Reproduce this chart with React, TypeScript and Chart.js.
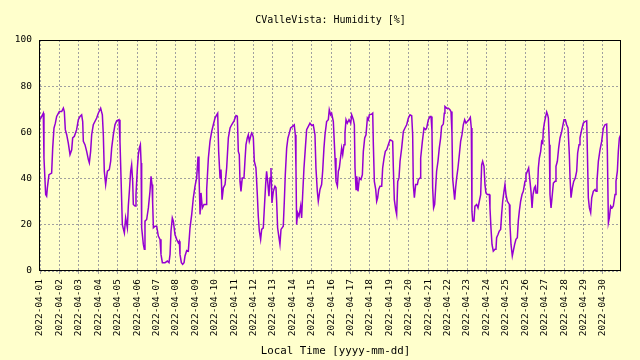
import React, { useEffect, useRef } from "react";
import { Chart, registerables } from "chart.js";

Chart.register(...registerables);

// [hours since 2022-04-01 00:00, humidity %]
const apr01to05: [number, number][] = [
  [0, 65.5], [4.1, 68.3], [4.9, 48.9], [7.0, 33.1], [8.2, 32.4], [9.1, 36], [11.1, 41.7], [14.4, 42.4],
  [15.7, 53.2], [17.3, 61.9], [19.0, 64], [20.6, 66.9], [23.9, 69], [26.8, 69], [28.9, 70.5], [30.1, 69],
  [31.3, 61.2], [33.0, 59], [35.0, 55.4], [37.1, 50.4], [39.2, 52.5], [40.4, 57.6], [42.5, 58.3], [45.3, 61.2],
  [47.4, 65.5], [49.5, 66.9], [51.5, 67.6], [52.8, 64.7], [53.6, 56.1], [55.6, 54.7], [57.7, 51.8], [59.8, 48.2],
  [61.0, 46.8], [62.6, 51.8], [63.9, 59], [65.9, 63.3], [70.1, 66.2], [72.1, 68.3], [75.0, 70.5], [77.1, 67.6],
  [78.3, 59], [79.5, 43.2], [81.2, 37.4], [83.3, 43.2], [85.7, 43.9], [87.4, 47.5], [88.6, 53.2], [90.7, 59],
  [92.7, 63.3], [94.8, 65], [97.7, 65.5], [98.9, 56.1], [100.2, 40.3], [101.8, 20.1], [104.3, 16.5], [105.9, 23],
  [108.0, 18.7], [109.2, 28.1], [110.5, 34.5], [112.1, 43.2], [113.3, 46], [114.6, 38.8], [115.4, 28.8], [117.5, 28.1],
  [118.7, 33.1], [120.4, 44.6], [121.6, 50.4], [122.8, 53.2],
];

const apr06to10: [number, number][] = [
  [124.1, 54.7], [125.0, 46.8], [125.7, 18.7], [127.8, 11.5], [129.0, 9.4], [129.8, 21.6], [131.9, 22.3], [134.0, 27.3],
  [136.0, 34.5], [137.3, 41], [138.5, 37.4], [139.3, 29.5], [140.2, 18.7], [142.2, 19.4], [144.3, 19.4], [146.3, 15.1],
  [148.4, 13.7], [149.6, 7.2], [151.3, 3.6], [154.6, 3.6], [157.5, 4.3], [159.5, 3.6], [160.8, 7.2], [162.0, 17.3],
  [163.6, 23], [164.9, 21.6], [166.9, 15.8], [169.0, 13.7], [171.1, 12.2], [172.3, 12.9], [173.1, 7.2], [174.8, 3.6],
  [176.4, 2.9], [178.1, 3.6], [179.3, 6.5], [181.4, 8.9], [183.4, 8.6], [185.5, 18.7], [187.6, 24.5], [189.6, 31.7],
  [191.7, 36.7], [193.7, 40.3], [195.4, 49.6], [196.6, 41.7], [197.9, 24.5], [199.1, 33.8], [200.7, 27.3], [202.8, 28.8],
  [205.3, 28.8], [206.1, 35.3], [208.2, 48.9], [210.2, 56.1], [212.3, 60.4], [214.3, 63.3], [216.4, 66.2], [218.5, 67.6],
  [219.7, 68.3], [220.9, 51.8], [222.6, 40.3], [223.8, 43.9], [225.1, 30.9], [226.7, 36], [228.8, 37.4], [230.8, 44.6],
  [232.9, 57.6], [235.0, 61.9], [237.0, 63.3], [239.9, 65], [242.4, 67.3], [244.0, 67],
];

const apr11to15: [number, number][] = [
  [245.2, 51.8], [246.4, 50.4], [247.3, 38.8], [248.5, 34.5], [250.1, 40.3], [252.2, 40.3], [253.4, 47.5], [254.7, 54.7],
  [256.3, 57.6], [257.6, 59], [258.8, 56.1], [260.5, 58.3], [261.7, 59.7], [262.9, 59], [263.8, 57.6], [265.0, 47.5],
  [267.0, 44.6], [267.9, 38.8], [268.7, 33.1], [269.9, 23.7], [271.2, 17.3], [272.8, 13.7], [274.1, 18], [276.1, 18.7],
  [277.4, 27.3], [279.0, 37.4], [280.2, 43.2], [281.5, 38.8], [283.1, 32.4], [284.4, 40.3], [285.6, 44.6], [286.8, 29.5],
  [288.5, 34.5], [290.5, 36.7], [291.8, 36], [292.6, 30.2], [293.8, 18.7], [295.5, 14.4], [296.7, 11.5], [298.0, 18],
  [300.8, 19.4], [302.1, 30.2], [303.3, 41.7], [305.0, 53.2], [306.6, 57.6], [308.3, 59.7], [309.9, 61.9], [312.4, 62.6],
  [314.4, 63.3], [315.7, 59], [316.5, 44.6], [317.3, 20.1], [318.6, 25.2], [320.2, 23.7], [322.3, 28.1], [323.5, 23],
  [324.8, 33.1], [326.4, 44.6], [328.1, 53.2], [329.7, 61.2], [331.8, 62.6], [333.8, 64], [335.9, 63], [337.9, 63.3],
  [340.0, 59], [341.2, 44.6], [342.9, 34.5], [344.1, 30.2], [346.2, 35.3], [348.2, 37.4], [349.5, 43.2], [351.1, 53.2],
  [352.4, 59], [354.4, 64.7], [356.5, 65.5], [357.7, 69.8], [359.4, 67.6], [360.6, 68.3], [362.7, 64.7],
];

const apr16to20: [number, number][] = [
  [364.8, 48.9], [366.0, 38.8], [367.7, 36.7], [368.9, 43.2], [370.1, 44.6], [371.8, 49.6], [373.0, 53.2], [374.3, 50.4],
  [375.9, 54.7], [377.1, 59.7], [378.4, 65.5], [380.0, 64], [382.1, 65.5], [384.2, 64], [385.4, 67.6], [387.5, 65.5],
  [388.7, 63.3], [389.5, 44.6], [390.8, 35.3], [391.6, 41], [393.2, 34.5], [394.9, 40.3], [396.9, 39.6], [398.6, 41.7],
  [399.8, 51.8], [401.5, 57.6], [403.1, 59], [404.8, 66.2], [406.0, 65.5], [407.2, 67.6], [410.1, 67.9], [411.4, 68.3],
  [412.2, 54.7], [413.4, 38.8], [415.1, 35.3], [416.3, 30.2], [417.5, 31.7], [418.8, 35.3], [420.4, 36.7], [422.5, 36.7],
  [423.7, 44.6], [425.4, 48.9], [427.0, 51.8], [428.7, 52.5], [430.7, 54.7], [432.8, 56.8], [434.9, 56.4], [436.1, 56.1],
  [436.9, 44.6], [438.1, 30.9], [439.8, 26.6], [441.0, 24.5], [442.3, 38.8], [443.9, 40.3], [445.2, 47.5], [447.2, 53.2],
  [449.3, 60.4], [451.3, 61.9], [453.4, 63.3], [455.5, 66.2], [457.5, 67.6], [459.6, 67.2], [460.8, 59], [461.6, 37.4],
  [462.9, 31.7], [464.5, 37.4], [466.6, 37.4], [467.8, 39.6], [469.9, 40.3], [470.7, 48.9], [472.8, 56.1], [474.8, 61.9],
  [476.9, 61.2], [478.1, 61.9], [480.2, 65.5], [482.3, 66.9], [483.5, 66.9],
];

const apr21to25: [number, number][] = [
  [484.7, 60.4], [485.5, 36], [486.7, 27.3], [488.0, 28.8], [489.2, 36], [490.4, 43.2], [492.1, 47.5], [493.7, 53.2],
  [495.4, 57.6], [496.6, 62.6], [498.7, 63.6], [499.9, 68.3], [500.7, 71.2], [502.8, 70.5], [504.9, 70.5], [506.9, 69.8],
  [508.2, 69], [509.4, 59.7], [510.2, 40.3], [511.5, 35.3], [512.7, 30.9], [513.9, 36], [515.2, 40.3], [516.8, 44.6],
  [518.5, 50.4], [520.1, 56.1], [521.8, 59], [523.4, 63.3], [525.1, 65.5], [526.7, 64], [528.4, 64.7], [530.4, 65.5],
  [532.1, 66.5], [533.3, 61.9], [534.1, 25.9], [535.0, 21.6], [536.6, 21.6], [537.8, 28.1], [539.9, 28.8], [541.6, 27.3],
  [543.2, 30.2], [544.9, 33.1], [546.1, 46], [547.3, 47.5], [549.0, 45.3], [550.2, 37.4], [551.4, 33.8], [553.1, 33.1],
  [555.6, 33.1], [556.4, 27.3], [557.6, 18.7], [558.9, 11.5], [560.5, 8.6], [562.6, 9.4], [563.8, 9.4], [564.6, 14.4],
  [566.3, 15.8], [567.9, 17.3], [569.6, 18], [570.8, 24.5], [572.1, 30.2], [573.7, 34.5], [574.9, 37.4], [576.2, 33.1],
  [577.8, 30.2], [580.3, 28.8], [581.1, 20.1], [582.4, 11.5], [584.0, 6.5], [585.2, 8.6], [586.9, 11.5], [588.5, 13.7],
  [590.2, 14.4], [591.4, 21.6], [592.7, 25.9], [594.3, 30.2], [596.0, 33.1], [597.6, 34.5], [599.7, 38.8], [600.9, 41.7],
  [602.6, 43.2], [604.2, 44.6],
];

const apr26to30: [number, number][] = [
  [607.1, 34.5], [608.4, 27.3], [609.6, 33.1], [611.3, 36], [612.5, 36.7], [613.3, 33.8], [615.0, 33.8], [616.2, 44.6],
  [617.4, 48.9], [619.1, 51.8], [620.3, 56.1], [621.6, 55.4], [622.4, 61.2], [623.6, 64], [625.3, 66.9], [626.5, 68.8],
  [627.7, 67.6], [628.6, 66.2], [629.8, 54.7], [630.6, 33.1], [631.9, 27.3], [633.1, 31.7], [634.8, 38.1], [636.8, 38.8],
  [638.0, 45.3], [639.7, 47.5], [641.3, 53.2], [643.0, 57.6], [645.1, 60.4], [646.3, 62.6], [647.9, 65.5], [649.6, 65.5],
  [651.2, 63.3], [652.9, 61.9], [654.5, 50.4], [655.4, 40.3], [656.6, 31.7], [658.2, 36], [659.9, 38.8], [661.9, 40.3],
  [663.6, 43.2], [664.8, 51.1], [666.5, 54.7], [667.7, 57.6], [669.8, 61.2], [671.8, 64], [673.9, 64.7], [676.0, 65],
  [676.8, 51.8], [678.0, 31.7], [679.3, 27.3], [680.9, 25.2], [682.2, 31.7], [684.2, 34.5], [686.3, 35.3], [687.5, 34.5],
  [688.7, 38.8], [690.4, 47.5], [692.5, 52.5], [694.5, 56.1], [696.6, 61.9], [698.6, 63.3], [700.7, 63.6], [701.5, 52.5],
  [702.8, 20.9], [704.0, 23], [705.6, 28.1], [707.3, 27.3], [708.9, 28.1], [711.0, 33.1], [712.2, 38.8], [713.9, 43.2],
  [715.1, 51.8], [716.4, 57.6], [718.0, 59],
];

const dateLabels = [
  "2022-04-01", "2022-04-02", "2022-04-03", "2022-04-04", "2022-04-05", "2022-04-06",
  "2022-04-07", "2022-04-08", "2022-04-09", "2022-04-10", "2022-04-11", "2022-04-12",
  "2022-04-13", "2022-04-14", "2022-04-15", "2022-04-16", "2022-04-17", "2022-04-18",
  "2022-04-19", "2022-04-20", "2022-04-21", "2022-04-22", "2022-04-23", "2022-04-24",
  "2022-04-25", "2022-04-26", "2022-04-27", "2022-04-28", "2022-04-29", "2022-04-30",
];
const yTicks = [0, 20, 40, 60, 80, 100];

const TITLE = "CValleVista: Humidity [%]";
const X_TITLE = "Local Time [yyyy-mm-dd]";
const BG = "#ffffcc";
const MONO = '"DejaVu Sans Mono", monospace';

export default function App() {
  const ref = useRef<HTMLCanvasElement | null>(null);

  useEffect(() => {
    document.body.style.margin = "0";
    document.body.style.background = BG;
    const canvas = ref.current;
    if (!canvas) return;

    const points = [...apr01to05, ...apr06to10, ...apr11to15, ...apr16to20, ...apr21to25, ...apr26to30].map(
      ([x, y]) => ({ x, y })
    );

    const decor = {
      id: "decor",
      beforeDraw(chart: any) {
        const c = chart.ctx;
        c.save();
        c.fillStyle = BG;
        c.fillRect(0, 0, chart.width, chart.height);
        c.restore();
      },
      afterDraw(chart: any) {
        const c = chart.ctx;
        const a = chart.chartArea;
        c.save();
        c.strokeStyle = "#000";
        c.lineWidth = 1;
        c.strokeRect(Math.round(a.left) - 0.5, Math.round(a.top) + 0.5, Math.round(a.right - a.left), Math.round(a.bottom - a.top) - 1);
        c.fillStyle = "#000";
        c.textAlign = "center";
        c.textBaseline = "middle";
        c.font = `10px ${MONO}`;
        c.fillText(TITLE, (a.left + a.right) / 2, 20);
        c.font = `10.8px ${MONO}`;
        c.fillText(X_TITLE, (a.left + a.right) / 2 + 5, 351);
        c.restore();
      },
    };

    const chart = new Chart(canvas, {
      type: "line",
      data: {
        datasets: [
          {
            data: points,
            borderColor: "#9400d3",
            borderWidth: 1.5,
            pointRadius: 0,
            tension: 0,
            fill: false,
          },
        ],
      },
      options: {
        animation: false,
        responsive: false,
        events: [],
        layout: { padding: { left: 0, right: 19, top: 40, bottom: 0 } },
        plugins: { legend: { display: false }, tooltip: { enabled: false }, title: { display: false } },
        scales: {
          x: {
            type: "linear",
            min: 0,
            max: 718.4,
            afterBuildTicks: (s: any) => {
              s.ticks = dateLabels.map((_, i) => ({ value: i * 24 }));
            },
            afterFit: (s: any) => {
              s.height = 89;
            },
            ticks: {
              autoSkip: false,
              minRotation: 90,
              maxRotation: 90,
              padding: 5,
              color: "#000",
              font: { family: MONO, size: 9.5 },
              callback: (v: any) => dateLabels[Math.round(Number(v) / 24)] ?? "",
            },
            grid: { color: "#a0a0a0", lineWidth: 1, drawTicks: true, tickLength: 3, tickColor: "#a0a0a0" },
            border: { display: false, dash: [2, 2] },
          },
          y: {
            min: 0,
            max: 100,
            afterBuildTicks: (s: any) => {
              s.ticks = yTicks.map((v) => ({ value: v }));
            },
            afterFit: (s: any) => {
              s.width = 40;
            },
            ticks: {
              padding: 8,
              color: "#000",
              font: { family: MONO, size: 9.5 },
            },
            grid: { color: "#a0a0a0", lineWidth: 1, drawTicks: false },
            border: { display: false, dash: [2, 2] },
          },
        },
      },
      plugins: [decor],
    });

    return () => chart.destroy();
  }, []);

  return (
    <div style={{ width: 640, height: 360 }}>
      <canvas ref={ref} width={640} height={360} style={{ display: "block" }} />
    </div>
  );
}
